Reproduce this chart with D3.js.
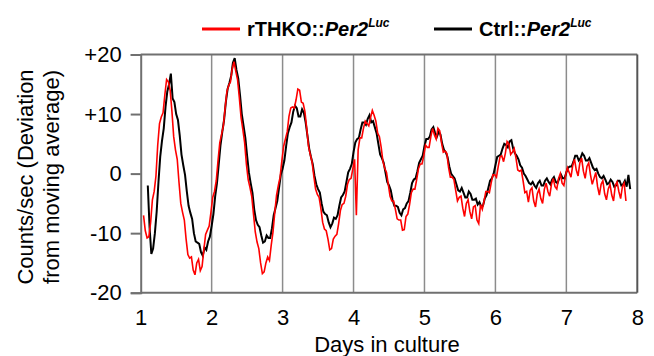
<!DOCTYPE html>
<html><head><meta charset="utf-8">
<script src="https://cdn.jsdelivr.net/npm/d3@7"></script>
<style>
body{margin:0;background:#fff}
text{font-family:"Liberation Sans",Arial,sans-serif;fill:#000}
</style>
</head><body>
<svg id="c" width="654" height="356"></svg>
<script>
// ---- data ----
const dayTicks = [1,2,3,4,5,6,7,8];
const gridDays = [2,3,4,5,6,7];
const yTicks = [-20,-10,0,10,20];
const yTickLabels = ["-20","-10","0","+10","+20"];
const seriesNames = ["rTHKO::","Ctrl::"];
const geneName = "Per2";
const reporterName = "Luc";
const sampleStep = 0.025;
const rthkoStart = 1.04;
const rthkoValues = [
 -7.0,-9.6,-10.8,-10.6,-8.2,-4.4,-3.0,-0.4,4.8,8.4,
 9.5,10.2,13.2,15.8,15.4,14.0,10.5,6.2,4.0,2.4,
 -1.5,-5.0,-6.5,-7.8,-11.0,-13.6,-14.2,-14.0,-16.2,-17.0,
 -15.0,-14.4,-16.3,-15.6,-12.8,-10.2,-9.5,-8.8,-6.5,-4.0,
 -3.0,-1.2,2.2,5.2,6.6,8.0,11.0,13.8,14.8,15.4,
 17.6,18.8,17.2,15.8,12.8,9.4,7.4,5.2,1.6,-1.0,
 -2.3,-3.8,-6.8,-9.8,-11.5,-12.6,-15.0,-16.8,-16.5,-15.0,
 -14.0,-14.6,-12.0,-9.8,-6.5,-3.6,-2.0,-0.6,2.2,4.6,
 5.8,7.0,9.6,11.0,11.2,11.0,12.4,14.2,14.0,12.0,
 11.8,10.4,7.6,4.6,3.2,2.0,-0.4,-2.6,-3.5,-4.0,
 -5.9,-8.2,-9.3,-9.6,-11.0,-12.8,-12.6,-11.0,-10.5,-10.2,
 -8.4,-6.2,-5.2,-5.0,-3.8,-1.8,-1.0,-0.8,0.8,2.4,
 -7.0,4.0,6.0,6.0,7.6,8.8,8.4,8.0,9.4,10.6,
 9.8,8.8,6.8,6.2,4.4,2.0,0.9,0.2,-1.8,-3.8,
 -4.6,-4.6,-6.0,-7.6,-7.8,-7.8,-9.5,-9.4,-7.2,-6.8,
 -5.2,-3.2,-2.6,-2.6,-1.0,0.8,1.6,1.6,3.0,4.8,
 4.4,4.4,6.2,7.6,6.5,5.8,7.6,7.2,5.2,3.6,
 3.8,3.4,1.0,-0.6,-0.6,-1.0,-2.8,-4.6,-4.0,-3.8,
 -5.8,-7.2,-5.0,-4.4,-6.4,-7.6,-5.6,-5.4,-7.8,-8.4,
 -5.2,-6.0,-4.6,-3.0,-3.0,-3.2,-1.6,-0.2,-0.2,-0.6,
 1.2,2.8,3.0,2.0,3.4,5.4,5.0,3.2,3.6,4.2,
 2.6,0.6,0.4,0.6,-1.2,-3.2,-3.0,-4.8,-2.8,-2.4,
 -4.6,-5.6,-3.4,-2.6,-4.2,-5.0,-2.6,-1.6,-3.0,-3.8,
 -1.8,-0.8,-2.2,-2.6,-0.8,0.0,-1.6,-2.0,-0.2,1.0,
 0.2,-0.6,1.4,2.4,0.6,-0.4,1.8,2.6,0.4,-0.8,
 1.2,1.8,-0.2,-1.8,-0.8,0.2,-2.2,-3.6,-1.8,-1.2,
 -3.4,-4.4,-2.6,-1.8,-3.6,-4.6,-2.0,-1.4,-3.0,-4.2,
 -2.2,-1.6,-4.6];
const ctrlStart = 1.10;
const ctrlValues = [
 -2.0,-9.0,-13.5,-12.6,-10.0,-6.4,-1.5,2.8,5.5,7.6,
 11.2,13.8,15.0,16.8,12.6,12.0,10.0,9.0,6.4,3.2,
 1.4,-0.2,-3.0,-5.4,-6.6,-7.6,-10.0,-11.4,-11.6,-11.8,
 -13.2,-13.8,-12.4,-12.8,-11.4,-10.6,-8.8,-6.8,-3.8,-1.6,
 1.6,4.8,7.0,9.0,12.0,14.2,15.2,16.4,18.6,19.4,
 17.4,16.0,13.2,10.0,8.0,6.0,3.0,0.2,-1.6,-3.2,
 -6.0,-7.8,-8.6,-9.0,-10.4,-11.6,-11.4,-10.4,-10.8,-10.8,
 -9.2,-7.0,-5.8,-4.6,-2.4,-0.2,0.8,2.2,4.6,6.8,
 7.8,8.6,10.4,11.4,11.0,9.6,9.6,10.8,10.2,8.6,
 6.4,4.2,2.8,1.6,-0.4,-1.8,-2.6,-3.2,-5.0,-6.4,
 -6.8,-7.0,-8.2,-9.0,-8.4,-7.4,-7.6,-7.0,-5.4,-4.0,
 -3.6,-3.0,-1.4,0.2,0.8,1.6,3.6,5.2,5.8,6.0,
 7.4,8.6,8.6,8.2,9.2,9.8,8.6,8.8,7.8,6.8,
 5.0,3.2,2.6,1.8,0.2,-1.4,-2.0,-2.8,-4.4,-5.4,
 -5.4,-5.6,-6.6,-7.0,-6.0,-5.8,-5.0,-4.6,-3.2,-1.6,
 -1.0,-0.8,0.4,1.8,2.4,3.0,4.6,5.8,5.8,6.2,
 7.4,7.8,6.8,6.2,7.0,6.6,5.0,4.0,3.6,2.8,
 1.2,0.0,-0.4,-0.8,-1.8,-2.8,-3.0,-2.4,-3.2,-4.0,
 -4.0,-3.0,-3.4,-4.4,-4.4,-4.2,-5.2,-4.8,-5.6,-5.4,
 -4.2,-3.6,-2.4,-1.2,-0.8,0.0,1.4,2.8,3.0,3.2,
 4.2,5.0,4.8,4.4,5.4,5.6,4.2,3.4,3.0,2.4,
 1.4,1.0,0.0,-0.4,-1.0,-1.6,-1.8,-1.4,-2.0,-2.4,
 -1.6,-1.2,-2.0,-2.0,-1.2,-0.8,-1.4,-1.8,-1.0,-0.6,
 -1.4,-1.6,-0.8,-0.2,-0.8,-0.8,0.2,1.0,1.2,1.2,
 2.0,3.0,3.0,2.2,2.6,3.4,3.0,2.2,2.2,2.6,
 1.8,1.0,0.6,0.8,0.0,-0.6,-0.8,-0.4,-1.0,-1.8,
 -1.6,-1.0,-1.4,-2.2,-2.0,-1.2,-1.2,-2.0,-1.8,-1.2,
 -2.2,-0.2,-2.6];
const xTitle = "Days in culture";
const yTitle1 = "Counts/sec (Deviation";
const yTitle2 = "from moving average)";

// ---- build ----
const toPts = (start, vals) => vals.map((v,i)=>({t: start + i*sampleStep, v}));
const series = [
  {name: seriesNames[0], color: "#ff0000", width: 1.6, pts: toPts(rthkoStart, rthkoValues)},
  {name: seriesNames[1], color: "#000000", width: 2.0, pts: toPts(ctrlStart, ctrlValues)}
];

const svg = d3.select("#c");
const x = d3.scaleLinear().domain([1,8]).range([140.7,637.3]);
const y = d3.scaleLinear().domain([-20,20]).range([292.7,54.5]);
const frameColor = "#707070";

// gridlines
svg.append("g").selectAll("line").data(gridDays).join("line")
  .attr("x1", d=>x(d)).attr("x2", d=>x(d))
  .attr("y1", y(20)).attr("y2", y(-20))
  .attr("stroke", "#8c8c8c").attr("stroke-width", 1.5);

// series (black below, red above)
const line = d3.line().x(d=>x(d.t)).y(d=>y(d.v));
[series[1], series[0]].forEach(s=>{
  svg.append("path").datum(s.pts).attr("d", line)
    .attr("fill","none").attr("stroke", s.color)
    .attr("stroke-width", s.width).attr("stroke-linejoin","miter");
});

// frame top/bottom/right
svg.append("line").attr("x1", x(1)).attr("x2", x(8)).attr("y1", y(20)).attr("y2", y(20))
  .attr("stroke", frameColor).attr("stroke-width", 2);
svg.append("line").attr("x1", x(1)).attr("x2", x(8)).attr("y1", y(-20)).attr("y2", y(-20))
  .attr("stroke", frameColor).attr("stroke-width", 2);
svg.append("line").attr("x1", x(8)).attr("x2", x(8)).attr("y1", y(20)).attr("y2", y(-20))
  .attr("stroke", "#555").attr("stroke-width", 2);

// y axis
const yAxis = d3.axisLeft(y).tickValues(yTicks)
  .tickFormat((d,i)=>yTickLabels[i]).tickSize(10).tickPadding(9);
const gy = svg.append("g").attr("transform", `translate(${x(1)},0)`).call(yAxis);
gy.selectAll("path,line").attr("stroke", frameColor).attr("stroke-width", 2);
gy.selectAll("text").attr("font-size", 22).attr("font-family", null);

// x axis
const xAxis = d3.axisBottom(x).tickValues(dayTicks).tickFormat(d=>d)
  .tickSizeInner(0).tickSizeOuter(0).tickPadding(17);
const gx = svg.append("g").attr("transform", `translate(0,${y(-20)})`).call(xAxis);
gx.select(".domain").remove();
gx.selectAll("text").attr("font-size", 22).attr("font-family", null);

// axis titles
svg.append("text").attr("x", 387).attr("y", 352).attr("text-anchor","middle")
  .attr("font-size", 22).text(xTitle);
const yt = svg.append("g").attr("transform", "translate(33,177) rotate(-90)");
yt.append("text").attr("text-anchor","middle").attr("font-size",22).text(yTitle1);
yt.append("text").attr("y", 26).attr("text-anchor","middle").attr("font-size",22).text(yTitle2);

// legend
const legendX = [202, 434];
series.forEach((s,i)=>{
  const g = svg.append("g").attr("transform", `translate(${legendX[i]},29)`);
  g.append("line").attr("x1",0).attr("x2",38).attr("stroke", s.color).attr("stroke-width",3);
  const t = g.append("text").attr("x", 45).attr("y", 7).attr("font-size", 20).attr("font-weight","bold");
  t.append("tspan").text(s.name);
  t.append("tspan").attr("font-style","italic").text(geneName);
  t.append("tspan").attr("font-style","italic").attr("font-size", 12).attr("dy",-9).text(reporterName);
});
</script>
</body></html>
